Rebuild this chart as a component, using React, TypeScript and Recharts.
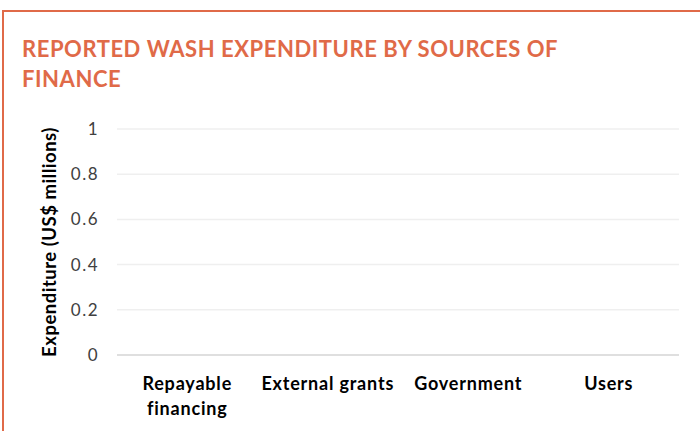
import React from "react"
import { BarChart, Bar, XAxis, YAxis, CartesianGrid } from "recharts"

// nothing was reported, so every source sits at zero
const categories = ["Repayable financing", "External grants", "Government", "Users"]
const expenditure = [0, 0, 0, 0]
const yTicks = [0, 0.2, 0.4, 0.6, 0.8, 1]

const ACCENT = "#e06a48"
const FONT = "Lato, 'Liberation Sans', sans-serif"

const data = categories.map((name, i) => ({ name, value: expenditure[i] }))

function CategoryTick({ x, y, payload }: any) {
  const label: string = payload.value
  // Excel wraps the long one onto two lines
  const lines = label === "Repayable financing" ? ["Repayable", "financing"] : [label]
  return (
    <text
      x={x}
      y={y}
      textAnchor="middle"
      fill="#000"
      fontFamily={FONT}
      fontWeight={700}
      fontSize={18}
      style={{ letterSpacing: "0.8px" }}
    >
      {lines.map((l, i) => (
        <tspan key={l} x={x} dy={i === 0 ? 27 : 25}>
          {l}
        </tspan>
      ))}
    </text>
  )
}

function AxisTitle({ viewBox }: any) {
  const cx = viewBox.x - 8
  const cy = viewBox.y + viewBox.height / 2
  return (
    <text
      x={cx}
      y={cy}
      transform={`rotate(-90 ${cx} ${cy})`}
      textAnchor="middle"
      dominantBaseline="central"
      fill="#000"
      fontFamily={FONT}
      fontWeight={700}
      fontSize={18.5}
      style={{ letterSpacing: "0.5px" }}
    >
      Expenditure (US$ millions)
    </text>
  )
}

export default function App() {
  return (
    <div
      style={{
        position: "fixed",
        left: 0,
        top: 0,
        width: 700,
        height: 431,
        background: "#fff",
        overflow: "hidden",
      }}
    >
      <div
        style={{
          position: "absolute",
          left: 2,
          top: 10,
          width: 740,
          height: 460,
          border: `2px solid ${ACCENT}`,
        }}
      />
      <div
        style={{
          position: "absolute",
          left: 22,
          top: 34,
          width: 640,
          color: ACCENT,
          fontFamily: FONT,
          fontWeight: 700,
          fontSize: 22,
          letterSpacing: "0.55px",
          lineHeight: "30px",
          whiteSpace: "nowrap",
        }}
      >
        REPORTED WASH EXPENDITURE BY SOURCES OF
        <br />
        FINANCE
      </div>
      <div style={{ position: "absolute", left: 0, top: 0 }}>
        <BarChart
          width={700}
          height={431}
          data={data}
          margin={{ top: 129, right: 21, bottom: 6, left: 57 }}
        >
          <CartesianGrid vertical={false} stroke="#efefef" strokeWidth={1.5} />
          <XAxis
            dataKey="name"
            interval={0}
            height={70}
            tickLine={false}
            axisLine={{ stroke: "#d9d9d9", strokeWidth: 1.5 }}
            tick={<CategoryTick />}
          />
          <YAxis
            width={60}
            domain={[0, 1]}
            ticks={yTicks}
            tickFormatter={(v: number) => String(v)}
            axisLine={false}
            tickLine={false}
            tickMargin={12}
            tick={{ fill: "#404040", fontFamily: FONT, fontSize: 17, style: { letterSpacing: "1.5px" } }}
            label={<AxisTitle />}
          />
          <Bar dataKey="value" fill="#4472c4" isAnimationActive={false} />
        </BarChart>
      </div>
    </div>
  )
}
